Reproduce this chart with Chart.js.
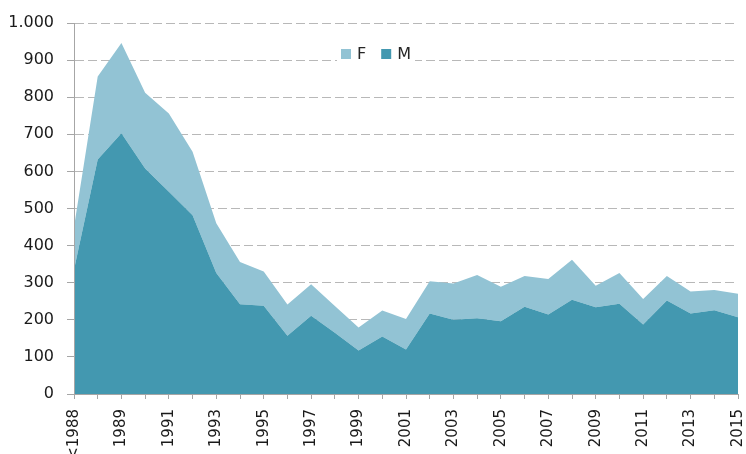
<!DOCTYPE html>
<html>
<head>
<meta charset="utf-8">
<script src="https://cdn.jsdelivr.net/npm/chart.js@4/dist/chart.umd.min.js"></script>
<style>
  html, body { margin: 0; padding: 0; background: #ffffff; }
  #wrap { width: 746px; height: 454px; position: relative; }
</style>
</head>
<body>
<div id="wrap"><canvas id="c" width="746" height="454"></canvas></div>
<script>
const categories = ['<1988','1988','1989','1990','1991','1992','1993','1994','1995','1996','1997','1998','1999','2000','2001','2002','2003','2004','2005','2006','2007','2008','2009','2010','2011','2012','2013','2014','2015'];
const maleValues =   [335, 632, 703, 608, 545, 482, 326, 242, 238, 157, 211, 165, 117, 155, 120, 217, 200, 204, 196, 235, 214, 254, 234, 243, 187, 252, 217, 226, 207];
const femaleValues = [115, 224, 243, 204, 211, 171, 134, 114,  92,  84,  85,  72,  62,  70,  82,  87,  98, 117,  93,  83,  96, 108,  58,  83,  69,  66,  59,  54,  63];
const yTickLabels = ['0','100','200','300','400','500','600','700','800','900','1.000'];
const seriesNames = ['M','F'];

const colDark = '#4398b0';
const colLight = '#92c3d4';
const fontFam = '"DejaVu Sans", sans-serif';

const legendPlugin = {
  id: 'customLegend',
  afterDraw(chart, args, opts) {
    const ctx = chart.ctx;
    ctx.save();
    ctx.font = '16px ' + fontFam;
    const items = [chart.data.datasets[1], chart.data.datasets[0]];
    const box = 10, gap = 6, between = 15;
    const widths = items.map(d => box + gap + ctx.measureText(d.label).width);
    const total = widths.reduce((a, b) => a + b, 0) + between * (items.length - 1);
    let x = opts.left;
    const y = opts.y;
    ctx.fillStyle = '#ffffff';
    ctx.fillRect(x - 4, y - 10, total + 8, 22);
    items.forEach((d, i) => {
      ctx.fillStyle = d.backgroundColor;
      ctx.fillRect(x, y - 5, box, box);
      ctx.fillStyle = '#262626';
      ctx.textBaseline = 'middle';
      ctx.textAlign = 'left';
      ctx.fillText(d.label, x + box + gap, y + 1);
      x += widths[i] + between;
    });
    ctx.restore();
  }
};

new Chart(document.getElementById('c'), {
  type: 'line',
  data: {
    labels: categories,
    datasets: [
      { label: seriesNames[0], data: maleValues, backgroundColor: colDark, borderColor: colDark, borderWidth: 0, pointRadius: 0, fill: 'origin', tension: 0 },
      { label: seriesNames[1], data: femaleValues, backgroundColor: colLight, borderColor: colLight, borderWidth: 0, pointRadius: 0, fill: '-1', tension: 0 }
    ]
  },
  options: {
    responsive: false,
    animation: false,
    events: [],
    layout: { padding: { top: 23, right: 8, left: 0, bottom: 0 } },
    plugins: {
      legend: { display: false },
      tooltip: { enabled: false },
      customLegend: { left: 341, y: 54 }
    },
    scales: {
      x: {
        stacked: true,
        offset: false,
        grid: { display: true, drawOnChartArea: false, drawTicks: true, tickLength: 5, tickColor: '#a6a6a6', tickWidth: 1 },
        border: { display: true, color: '#a6a6a6', width: 1, z: 1 },
        ticks: {
          autoSkip: false, maxRotation: 90, minRotation: 90, padding: 10,
          color: '#1a1a1a', font: { family: fontFam, size: 15 },
          callback: function (v, i) { return i % 2 === 0 ? categories[i] : ''; }
        },
        afterFit: function (s) { s.height = 60; s.paddingRight = 0; s.paddingLeft = 0; }
      },
      y: {
        stacked: true,
        min: 0, max: 1000,
        grid: { display: true, drawOnChartArea: true, color: '#b8b8b8', lineWidth: 1, drawTicks: true, tickLength: 7, tickColor: '#a6a6a6' },
        border: { display: true, color: '#a6a6a6', width: 1, dash: [9, 4], z: 1 },
        ticks: {
          stepSize: 100, padding: 13,
          color: '#1a1a1a', font: { family: fontFam, size: 16 },
          callback: function (v, i) { return yTickLabels[i]; }
        },
        afterFit: function (s) { s.width = 74; }
      }
    }
  },
  plugins: [legendPlugin]
});
</script>
</body>
</html>
